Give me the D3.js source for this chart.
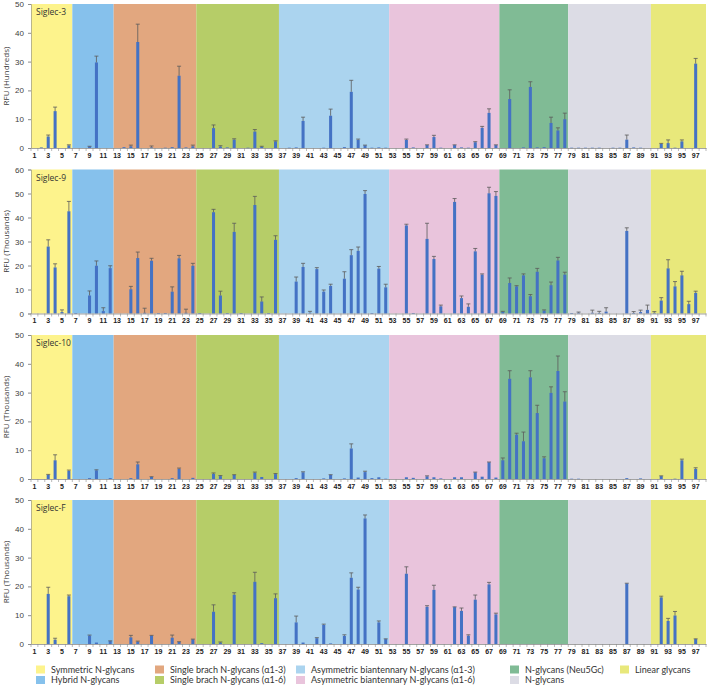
<!DOCTYPE html>
<html>
<head>
<meta charset="utf-8">
<script src="https://cdn.jsdelivr.net/npm/d3@7"></script>
<style>
  body { margin: 0; background: #fff; }
  svg { display: block; }
</style>
</head>
<body>
<div id="chart"></div>
<script>
// glycan numbers on the array
var glycans = d3.range(1, 99);
var tickLabels = d3.range(1, 98, 2);

// glycan classes (first, last glycan number)
var groupNames = ["Symmetric N-glycans", "Hybrid N-glycans", "Single brach N-glycans (\u03b11-3)",
  "Single brach N-glycans (\u03b11-6)", "Asymmetric biantennary N-glycans (\u03b11-3)",
  "Asymmetric biantennary N-glycans (\u03b11-6)", "N-glycans (Neu5Gc)", "N-glycans", "Linear glycans"];
var groupStart = [1, 7, 13, 25, 37, 53, 69, 79, 91];
var groupEnd   = [6, 12, 24, 36, 52, 68, 78, 90, 98];
var groupColors = ["#fdf38c", "#86c1ec", "#e2a77f", "#b6cd68", "#abd4ef", "#e9c4dc", "#80bb95", "#dcdce5", "#e8e87b"];

var panelNames = ["Siglec-3", "Siglec-9", "Siglec-10", "Siglec-F"];
var panelUnits = ["RFU (Hundreds)", "RFU (Thousands)", "RFU (Thousands)", "RFU (Thousands)"];
var panelMax = [50, 60, 50, 50];

var siglec3 = [
  0, 0.2, 4.0, 12.8, 0, 0.9, 0, 0, 0.5, 29.7,
  0, 0, 0, 0.3, 0.6, 36.8, 0, 0.2, 0, 0.1,
  0.3, 25.1, 0.2, 0.6, 0, 0, 6.9, 0.5, 0.2, 2.9,
  0, 0.1, 5.7, 0.4, 0, 2.3, 0, 0.1, 0.2, 9.4,
  0, 0, 0.1, 11.2, 0, 0.3, 19.5, 2.8, 0.9, 0.1,
  0.2, 0.1, 0, 0, 2.8, 0.2, 0, 1.0, 3.8, 0.1,
  0, 1.0, 0.2, 0.1, 2.0, 7.0, 12.2, 1.0, 0, 17.0,
  0, 0.2, 21.2, 0.2, 0.3, 8.7, 6.1, 10.0, 0.1, 0.1,
  0.1, 0.1, 0.1, 0, 0.1, 0.1, 2.9, 0.2, 0.1, 0,
  0, 1.4, 1.7, 0.1, 2.3, 0, 29.3, 0];
var siglec3Err = [
  0, 0, 0.5, 1.4, 0, 0.2, 0, 0, 0.1, 2.2,
  0, 0, 0, 0, 0.4, 6.2, 0, 0.5, 0, 0,
  0, 3.3, 0, 0.4, 0, 0, 1.1, 0.3, 0, 0.3,
  0, 0, 0.7, 0.2, 0, 0.2, 0, 0, 0, 1.3,
  0, 0, 0, 2.3, 0, 0, 4.0, 0.3, 0.1, 0,
  0, 0, 0, 0, 0.3, 0, 0, 0.1, 0.6, 0,
  0, 0.1, 0, 0, 0.2, 0.5, 1.4, 0.1, 0, 3.2,
  0, 0, 1.8, 0, 0, 2.0, 0.9, 2.1, 0, 0,
  0, 0, 0, 0, 0, 0, 1.6, 0, 0, 0,
  0, 0.2, 1.1, 0, 0.5, 0, 1.8, 0];

var siglec9 = [
  0, 0, 27.9, 19.2, 0.6, 42.6, 0.1, 0, 7.5, 19.9,
  1.0, 18.9, 0, 0, 10.1, 23.1, 0.3, 22.0, 0.1, 0.1,
  9.1, 23.0, 0.3, 19.9, 0.1, 0, 42.2, 7.5, 0.1, 34.0,
  0.1, 0, 45.2, 5.0, 0.1, 30.7, 0, 0, 13.3, 19.4,
  0.3, 18.5, 9.1, 11.5, 0, 14.5, 24.3, 26.1, 49.8, 0.1,
  18.7, 10.9, 0, 0, 36.7, 0.1, 0, 31.1, 22.7, 3.0,
  0, 46.5, 6.4, 2.8, 25.9, 16.2, 50.1, 49.0, 0.7, 12.7,
  11.3, 15.9, 7.2, 17.4, 1.2, 11.8, 22.1, 16.2, 0.1, 0.3,
  0, 0.3, 0.2, 0.8, 0, 0, 34.4, 0.2, 0.6, 1.5,
  0.3, 5.4, 18.8, 11.3, 15.9, 3.9, 8.6, 0];
var siglec9Err = [
  0, 0, 2.8, 1.5, 0.9, 4.1, 0, 0, 1.9, 2.0,
  1.4, 1.0, 0, 0, 1.2, 2.5, 1.9, 1.0, 0, 0,
  2.0, 1.2, 1.5, 1.0, 0, 0, 1.2, 1.8, 0, 3.6,
  0, 0, 3.6, 1.9, 0, 1.7, 0, 0, 1.9, 1.5,
  0.6, 0.6, 0.7, 0.7, 0, 2.9, 2.3, 1.6, 1.4, 0,
  0.9, 1.3, 0, 0, 0.5, 0, 0, 6.5, 1.1, 0.5,
  0, 1.4, 0.9, 1.2, 1.2, 0.3, 2.5, 1.8, 0.2, 2.1,
  0.3, 0.6, 0.7, 1.4, 0.3, 1.3, 1.3, 1.0, 0, 0.3,
  0, 1.1, 0.7, 1.6, 0, 0, 1.3, 0.6, 0.8, 2.0,
  0.5, 1.2, 3.6, 2.0, 1.7, 1.2, 0.7, 0];

var siglec10 = [
  0, 0, 1.4, 6.5, 0, 2.8, 0, 0, 0.3, 3.0,
  0, 0.3, 0, 0, 0.3, 5.1, 0, 0.7, 0, 0,
  0.3, 3.5, 0, 0.4, 0, 0, 1.8, 1.0, 0, 1.4,
  0, 0, 2.1, 0.7, 0, 1.7, 0, 0, 0.3, 2.3,
  0, 0, 0.2, 1.4, 0, 0.2, 10.6, 0.5, 2.4, 0.3,
  0.6, 0.1, 0, 0, 0.6, 0.4, 0, 0.9, 0.6, 0.2,
  0, 0.6, 0.6, 0, 2.3, 0.8, 5.8, 0.5, 6.5, 34.8,
  15.4, 13.1, 35.3, 22.9, 7.2, 29.9, 37.5, 26.9, 0.1, 0.1,
  0, 0, 0, 0, 0, 0, 0.3, 0, 0.2, 0,
  0, 1.0, 0, 0.1, 6.5, 0, 3.5, 0];
var siglec10Err = [
  0, 0, 0.2, 1.9, 0, 0.3, 0, 0, 0, 0.2,
  0, 0, 0, 0, 0, 0.8, 0, 0.1, 0, 0,
  0, 0.3, 0, 0, 0, 0, 0.3, 0.2, 0, 0.1,
  0, 0, 0.3, 0, 0, 0.2, 0, 0, 0, 0.2,
  0, 0, 0, 0.1, 0, 0, 1.6, 0, 0.3, 0,
  0, 0, 0, 0, 0, 0, 0, 0.2, 0, 0,
  0, 0, 0, 0, 0.1, 0, 0.1, 0, 0.8, 2.8,
  0.5, 3.2, 2.3, 2.7, 0.5, 2.1, 5.2, 3.4, 0, 0,
  0, 0, 0, 0, 0, 0, 0, 0, 0, 0,
  0, 0.1, 0, 0, 0.4, 0, 0.4, 0];

var siglecF = [
  0, 0, 17.4, 1.5, 0, 16.6, 0, 0, 2.9, 0.5,
  0, 1.0, 0, 0, 2.3, 0.8, 0, 2.9, 0, 0,
  2.2, 0.7, 0, 1.6, 0, 0, 11.2, 0.5, 0, 17.1,
  0, 0, 21.6, 0.3, 0, 15.9, 0, 0, 7.5, 0.5,
  0, 2.0, 6.6, 0.2, 0, 2.8, 23.0, 18.9, 43.6, 0,
  7.5, 1.7, 0, 0, 24.4, 0, 0, 12.9, 18.8, 0,
  0, 12.8, 11.5, 2.9, 15.4, 0, 20.7, 10.3, 0, 0,
  0, 0, 0, 0, 0, 0, 0, 0, 0, 0,
  0, 0, 0, 0, 0, 0, 21.0, 0, 0, 0,
  0, 16.2, 8.0, 9.9, 0, 0, 1.7, 0];
var siglecFErr = [
  0, 0, 2.3, 0.5, 0, 0.4, 0, 0, 0.2, 0,
  0, 0.1, 0, 0, 0.7, 0.2, 0, 0.1, 0, 0,
  0.9, 0.1, 0, 0.1, 0, 0, 2.4, 0.2, 0, 0.7,
  0, 0, 3.3, 0, 0, 1.5, 0, 0, 2.2, 0,
  0, 0.2, 0.3, 0, 0, 0.4, 1.7, 0.8, 1.2, 0,
  0.5, 0.1, 0, 0, 2.4, 0, 0, 0.4, 1.6, 0,
  0, 0.1, 1.0, 0.3, 1.6, 0, 0.7, 0.4, 0, 0,
  0, 0, 0, 0, 0, 0, 0, 0, 0, 0,
  0, 0, 0, 0, 0, 0, 0.1, 0, 0, 0,
  0, 0.4, 0.9, 1.4, 0, 0, 0.1, 0];

var panelValues = [siglec3, siglec9, siglec10, siglecF];
var panelErrors = [siglec3Err, siglec9Err, siglec10Err, siglecFErr];

var width = 708, height = 687;
var plotLeft = 31, plotRight = 706;
var panelTops = [4, 169.5, 335, 500];
var panelHeight = 144;

var svg = d3.select("#chart")
  .append("svg")
  .attr("width", width)
  .attr("height", height)
  .style("font-family", "'Open Sans', sans-serif");

var x = d3.scaleBand()
  .domain(glycans)
  .range([plotLeft, plotRight])
  .paddingInner(0.56)
  .paddingOuter(0.28);
var step = x.step();
var cellLeft = function(n) { return plotLeft + (n - 1) * step; };

panelNames.forEach(function(name, p) {
  var top = panelTops[p], bottom = top + panelHeight;
  var y = d3.scaleLinear().domain([0, panelMax[p]]).range([bottom, top]);
  var g = svg.append("g");

  // class backgrounds
  g.selectAll("rect.bg")
    .data(groupNames)
    .enter().append("rect")
      .attr("class", "bg")
      .attr("x", function(d, i) { return cellLeft(groupStart[i]); })
      .attr("width", function(d, i) { return (groupEnd[i] - groupStart[i] + 1) * step; })
      .attr("y", top)
      .attr("height", panelHeight)
      .attr("fill", function(d, i) { return groupColors[i]; });

  var vals = panelValues[p], errs = panelErrors[p];
  var rows = glycans.map(function(n, i) { return {n: n, v: vals[i], e: errs[i]}; });

  // bars
  g.selectAll("rect.bar")
    .data(rows.filter(function(d) { return d.v > 0; }))
    .enter().append("rect")
      .attr("class", "bar")
      .attr("x", function(d) { return x(d.n); })
      .attr("width", x.bandwidth())
      .attr("y", function(d) { return y(d.v); })
      .attr("height", function(d) { return Math.max(0.6, bottom - y(d.v)); })
      .attr("fill", "#4472c4");

  // error bars
  var eb = g.selectAll("g.err")
    .data(rows.filter(function(d) { return d.e > 0; }))
    .enter().append("g")
      .attr("class", "err")
      .attr("stroke", "#5b5b5b")
      .attr("stroke-width", 0.8);
  eb.append("line")
    .attr("x1", function(d) { return x(d.n) + x.bandwidth() / 2; })
    .attr("x2", function(d) { return x(d.n) + x.bandwidth() / 2; })
    .attr("y1", function(d) { return y(d.v); })
    .attr("y2", function(d) { return y(d.v + d.e); });
  eb.append("line")
    .attr("x1", function(d) { return x(d.n) + x.bandwidth() / 2 - 2; })
    .attr("x2", function(d) { return x(d.n) + x.bandwidth() / 2 + 2; })
    .attr("y1", function(d) { return y(d.v + d.e); })
    .attr("y2", function(d) { return y(d.v + d.e); });

  // x axis
  var xa = g.append("g")
    .attr("transform", "translate(0," + bottom + ")")
    .call(d3.axisBottom(x).tickValues(tickLabels).tickSize(0).tickPadding(5));
  xa.select(".domain").attr("stroke", "#8c8c8c").attr("stroke-width", 0.8);
  xa.selectAll("text")
    .attr("font-size", "7px")
    .attr("font-weight", "bold")
    .attr("fill", "#222");
  g.selectAll("line.xt")
    .data(d3.range(0, glycans.length + 1))
    .enter().append("line")
      .attr("class", "xt")
      .attr("x1", function(i) { return plotLeft + i * step; })
      .attr("x2", function(i) { return plotLeft + i * step; })
      .attr("y1", bottom)
      .attr("y2", bottom + 3)
      .attr("stroke", "#8c8c8c")
      .attr("stroke-width", 0.6);

  // y axis
  var ya = g.append("g")
    .attr("transform", "translate(" + plotLeft + ",0)")
    .call(d3.axisLeft(y).ticks(panelMax[p] / 10).tickSize(3).tickPadding(4));
  ya.select(".domain").attr("stroke", "#8c8c8c").attr("stroke-width", 0.6);
  ya.selectAll(".tick line").attr("stroke", "#8c8c8c");
  ya.selectAll("text")
    .attr("font-size", "8px")
    .attr("fill", "#404040");

  g.append("text")
    .attr("transform", "translate(9," + (top + panelHeight / 2) + ") rotate(-90)")
    .attr("text-anchor", "middle")
    .attr("font-size", "8px")
    .attr("fill", "#404040")
    .text(panelUnits[p]);

  g.append("text")
    .attr("x", plotLeft + 5)
    .attr("y", top + 11)
    .attr("font-size", "8.5px")
    .attr("fill", "#333")
    .text(name);
});

// legend, two rows per column
var legendX = [36, 155, 296, 510, 620];
var legend = svg.append("g")
  .style("font-family", "Lato, sans-serif")
  .selectAll("g")
  .data(groupNames)
  .enter().append("g")
    .attr("transform", function(d, i) {
      return "translate(" + legendX[Math.floor(i / 2)] + "," + (665.5 + (i % 2) * 10.5) + ")";
    });
legend.append("rect")
  .attr("width", 9)
  .attr("height", 8)
  .attr("fill", function(d, i) { return groupColors[i]; });
legend.append("text")
  .attr("x", 15)
  .attr("y", 4)
  .attr("dy", "0.35em")
  .attr("font-size", "9px")
  .attr("fill", "#333")
  .text(function(d) { return d; });
</script>
</body>
</html>
